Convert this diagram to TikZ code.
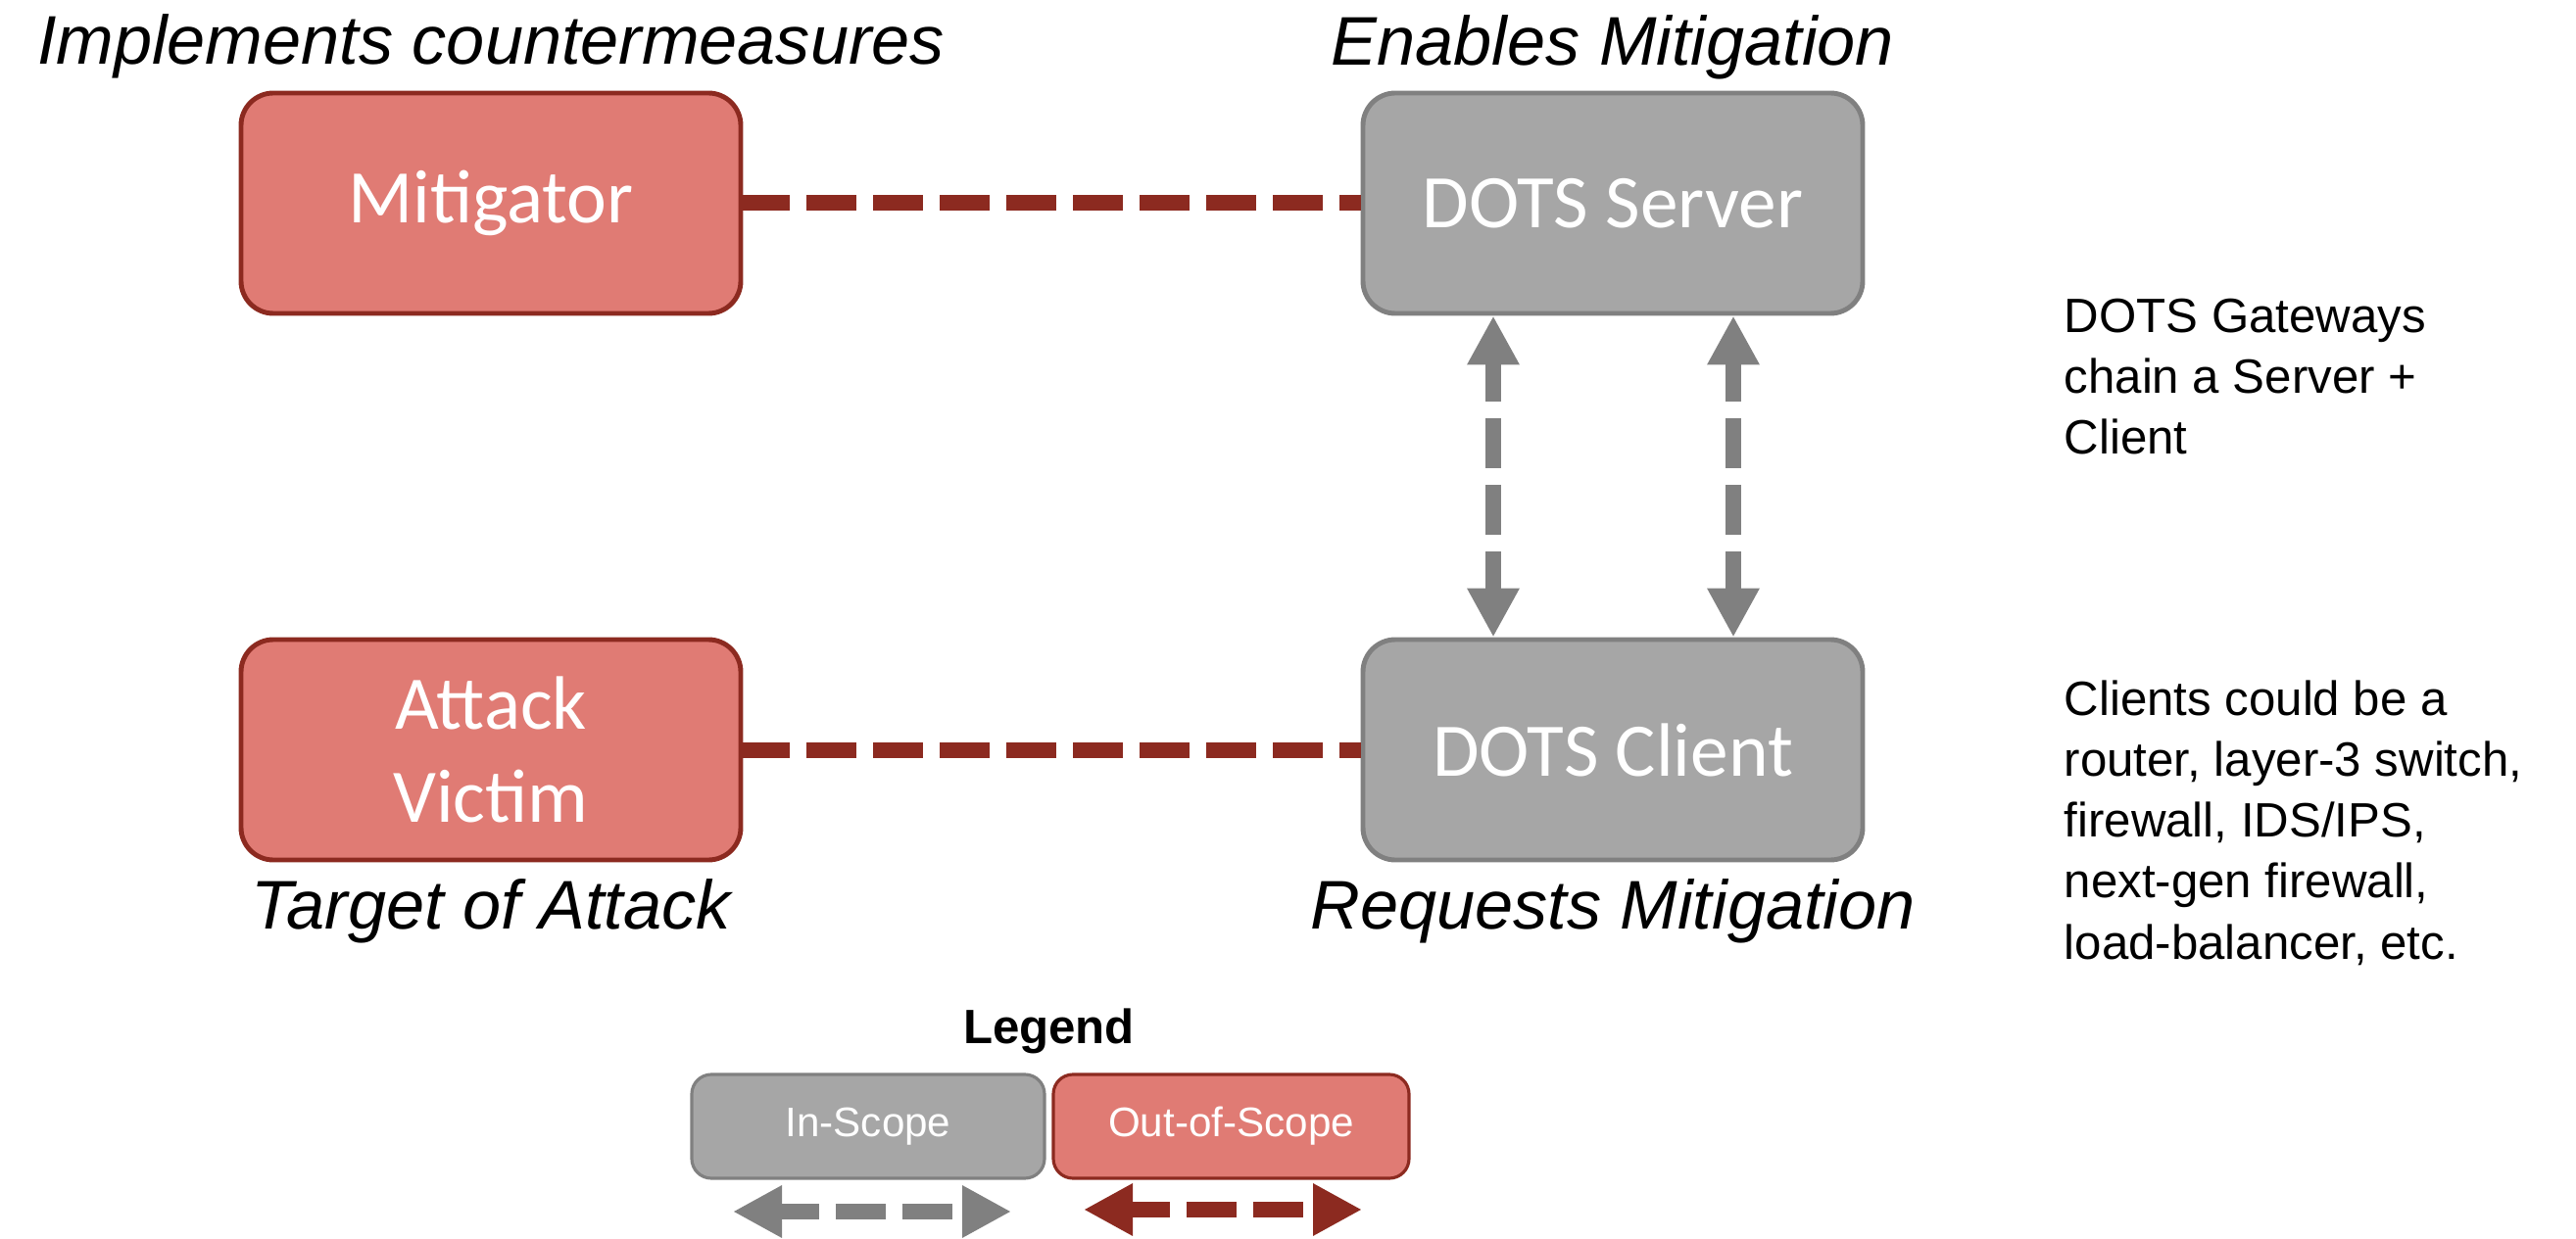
\documentclass[tikz,border=0pt]{standalone}
\usepackage{fontspec}
\setmainfont{Liberation Sans}
\newfontfamily\boxfont{Carlito}
\usetikzlibrary{calc,arrows,arrows.meta,positioning}
\definecolor{outfill}{HTML}{E07B74}
\definecolor{redline}{HTML}{8C2A20}
\definecolor{infill}{HTML}{A6A6A6}
\definecolor{grayline}{HTML}{808080}
\tikzset{
    block/.style = {draw, rectangle, rounded corners=3.3mm, line width=1.4pt,
        minimum height=2.25cm, minimum width=5.1cm, align=center,
        text=white, font=\boxfont\fontsize{22}{27}\selectfont},
    outblock/.style = {block, fill=outfill, draw=redline},
    inblock/.style = {block, fill=infill, draw=grayline},
    keyblock/.style = {draw, rectangle, rounded corners=2mm, line width=0.9pt,
        minimum height=1.06cm, text=white, font=\fontsize{12}{14}\selectfont},
    caption/.style = {font=\itshape\fontsize{20}{24}\selectfont, anchor=base},
    note/.style = {font=\fontsize{14}{17.7}\selectfont, align=left,
        anchor=base west, inner sep=0pt},
    link/.style = {draw, line width=1.6mm, dash pattern=on 5.1mm off 1.7mm},
    duplex/.style = {link, dash phase=1mm,
        {Triangle[length=5mm,width=5mm]}-{Triangle[length=5mm,width=5mm]}}
}

\begin{document}
\begin{tikzpicture}[node distance=2cm]
    \useasboundingbox (0,0) rectangle (26.29,-12.65);
    \node [outblock] (mitigator) at (5.01,-2.075) {Mitigator};
    \node [inblock, right of=mitigator, node distance=11.45cm] (server) {DOTS Server};
    \node [outblock, below of=mitigator, node distance=5.58cm] (victim) {Attack\\Victim};
    \node [inblock, right of=victim, node distance=11.45cm] (client) {DOTS Client};
    \node [caption] (implements) at ($(mitigator.north)+(0,0.27)$) {Implements countermeasures};
    \node [caption] (enables) at ($(server.north)+(0,0.26)$) {Enables Mitigation};
    \node [caption] (target) at ($(victim.south)+(0,-0.68)$) {Target of Attack};
    \node [caption] (requests) at ($(client.south)+(0,-0.68)$) {Requests Mitigation};
    \draw [link, draw=redline, dash phase=0.3mm] (mitigator) -- (server);
    \draw [link, draw=redline, dash phase=0.3mm] (victim) -- (client);
    \draw [duplex, draw=grayline] ([xshift=-1.22cm]server.south) -- ([xshift=-1.22cm]client.north);
    \draw [duplex, draw=grayline] ([xshift=1.23cm]server.south) -- ([xshift=1.23cm]client.north);
    \node [note] (gateways) at (21.06,-4.64) {DOTS Gateways\\chain a Server +\\Client};
    \node [note] (clients) at (21.06,-9.79) {Clients could be a\\router, layer-3 switch,\\firewall, IDS/IPS,\\next-gen firewall,\\load-balancer, etc.};
    \node [keyblock, fill=infill, draw=grayline, minimum width=3.6cm] (inscope) at (8.86,-11.50) {In-Scope};
    \node [keyblock, fill=outfill, draw=redline, minimum width=3.63cm, right of=inscope, node distance=3.705cm] (outscope) {Out-of-Scope};
    \node [anchor=base, font=\bfseries\fontsize{14}{17}\selectfont] (legend) at (10.705,-10.65) {Legend};
    \coordinate (inA) at (7.48,-12.37);
    \coordinate (inB) at (10.32,-12.37);
    \coordinate (outA) at (11.06,-12.35);
    \coordinate (outB) at (13.90,-12.35);
    \draw [duplex, draw=grayline] (inA) -- (inB);
    \draw [duplex, draw=redline] (outA) -- (outB);
\end{tikzpicture}
\end{document}
